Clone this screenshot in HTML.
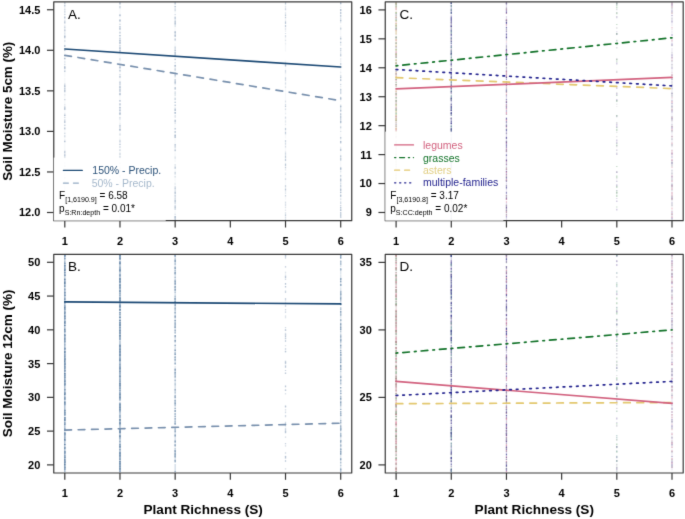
<!DOCTYPE html><html><head><meta charset="utf-8"><style>html,body{margin:0;padding:0;background:#fff;overflow:hidden}svg{display:block;font-family:"Liberation Sans",sans-serif}</style></head><body><svg width="685" height="519" viewBox="0 0 685 519" font-family="Liberation Sans, sans-serif">
<defs><filter id="bl" x="0" y="0" width="685" height="519" filterUnits="userSpaceOnUse" color-interpolation-filters="sRGB"><feConvolveMatrix order="3" kernelMatrix="1 8 1 8 64 8 1 8 1" divisor="100" edgeMode="duplicate"/></filter></defs><g filter="url(#bl)">
<rect width="685" height="519" fill="#ffffff"/>
<line x1="64.80" y1="2.50" x2="64.80" y2="220.00" stroke="#eef2f6" stroke-width="1.2" stroke-opacity="0.5" stroke-dasharray="5.9 0.5 8.9 0.3 7.8 1.0 3.5 1.4 3.3 1.1 3.6 0.4 6.8 3.1 4.1 0.6 8.6 5.1 8.2 1.0 11.8 0.3 10.7 0.8 4.3 0.4 5.8 3.0 4.6 1.7 8.8 1.0 7.9 0.3 3.5 0.6 9.1 1.1 5.8 1.7 7.1 0.8 10.1 2.2 5.2 1.6 7.7 3.7 9.6 0.8 11.8 0.4"/>
<line x1="64.80" y1="2.50" x2="64.80" y2="220.00" stroke="#c9d3df" stroke-width="1.2" stroke-opacity="0.62" stroke-dasharray="1.4 6.3 0.9 3.1 0.7 4.9 2.0 3.8 2.2 1.8 1.9 4.1 1.6 2.8 2.1 12.6 1.5 4.9 0.7 5.4 1.8 21.5 2.1 1.6 1.3 4.9 0.6 2.9 0.9 0.7 0.7 6.5 0.8 1.4 1.3 9.0 0.7 2.8 1.6 9.4 2.1 8.7 1.1 2.5 1.2 9.4 2.3 0.9 0.9 1.3 1.0 3.0 1.7 1.5 0.6 2.5 1.3 3.8 2.3 5.2 1.5 4.3 1.8 0.4 2.2 6.7 2.2 7.1 1.3 2.4"/>
<line x1="64.80" y1="2.50" x2="64.80" y2="220.00" stroke="#b5c3d3" stroke-width="1.2" stroke-opacity="0.62" stroke-dasharray="0.8 4.5 0.7 0.5 1.0 1.0 1.2 0.4 0.6 0.9 0.8 2.1 0.6 9.1 1.7 0.9 1.1 2.0 1.3 0.8 2.1 21.5 1.4 3.0 0.8 0.7 1.2 1.5 2.1 1.0 0.6 13.1 1.6 0.9 1.6 0.3 1.6 16.7 2.2 5.3 1.1 2.2 0.9 6.5 1.6 6.7 1.2 1.3 2.1 18.2 2.1 7.2 2.1 6.0 1.0 3.3 1.2 0.3 0.7 1.6 1.1 5.3 2.3 2.7 2.3 19.2 2.3 2.1 1.0 1.3"/>
<line x1="64.80" y1="2.50" x2="64.80" y2="220.00" stroke="#8aa0ba" stroke-width="1.2" stroke-opacity="0.62" stroke-dasharray="1.0 1.2 1.7 10.1 2.1 3.0 1.8 7.1 0.8 4.8 2.2 6.7 2.0 3.0 0.9 6.9 1.2 7.1 2.3 2.4 1.3 12.8 1.9 1.0 0.8 0.9 2.2 7.2 0.9 7.7 2.4 4.8 1.2 3.6 0.8 0.3 2.3 4.7 1.5 11.8 1.4 9.0 2.1 1.2 1.1 1.7 1.0 4.0 1.1 2.5 0.8 10.5 1.2 2.8 1.7 10.3 1.4 10.9 1.5 3.5 1.5 0.3 1.4 1.1 0.6 7.1"/>
<line x1="119.98" y1="2.50" x2="119.98" y2="220.00" stroke="#eef2f6" stroke-width="1.2" stroke-opacity="0.5" stroke-dasharray="4.6 1.3 9.5 1.6 5.9 1.4 8.0 2.8 4.0 1.6 5.2 0.7 10.0 1.4 8.1 2.6 11.2 1.2 8.5 1.4 7.6 2.2 7.1 1.5 7.3 4.9 9.3 3.7 11.5 0.7 8.0 5.0 10.6 0.4 4.1 1.2 3.7 0.7 3.7 2.0 10.1 4.0 4.4 2.3 8.9 0.5 10.9 5.9"/>
<line x1="119.98" y1="2.50" x2="119.98" y2="220.00" stroke="#c9d3df" stroke-width="1.2" stroke-opacity="0.66" stroke-dasharray="1.0 11.6 1.3 2.7 2.4 6.9 0.9 2.3 1.5 1.8 1.0 1.6 1.9 0.3 1.6 2.4 0.6 1.7 1.7 2.9 0.7 16.0 2.0 13.6 0.8 1.4 0.7 5.9 1.1 0.7 1.4 9.3 2.1 1.3 0.9 9.6 1.6 4.7 0.8 0.4 1.8 2.3 0.7 10.6 1.7 6.3 0.8 7.5 0.7 7.6 1.4 1.8 1.6 10.0 1.1 0.7 1.5 1.2 0.8 0.9 0.7 1.0 1.2 1.6 2.0 1.5 1.5 0.9 1.2 0.3 1.1 0.3 1.9 3.2 0.9 2.6 2.3 0.6 2.1 2.3 1.5 6.9"/>
<line x1="119.98" y1="2.50" x2="119.98" y2="220.00" stroke="#b5c3d3" stroke-width="1.2" stroke-opacity="0.66" stroke-dasharray="1.3 2.8 1.8 15.4 1.2 6.9 1.9 4.0 1.3 1.8 0.7 0.7 0.7 5.3 1.1 0.9 0.8 7.1 2.2 4.4 1.1 1.2 1.1 2.5 0.9 2.4 1.1 12.4 2.4 3.2 1.0 12.8 1.2 1.9 0.6 2.0 1.5 2.8 1.0 2.8 0.6 1.4 0.8 2.1 0.7 0.3 1.1 1.2 1.7 3.0 2.0 4.2 1.9 8.1 1.3 1.7 2.4 0.8 1.9 4.1 0.7 7.0 2.2 3.9 1.9 6.5 0.9 3.0 1.5 7.0 2.0 6.8 1.7 8.6 1.8 4.6"/>
<line x1="119.98" y1="2.50" x2="119.98" y2="220.00" stroke="#8aa0ba" stroke-width="1.2" stroke-opacity="0.66" stroke-dasharray="1.0 0.3 0.8 1.9 0.8 7.0 1.6 3.9 1.7 4.5 1.5 0.2 2.0 5.4 1.5 3.1 1.8 0.5 1.9 1.3 0.7 1.4 1.9 1.1 1.9 14.1 1.5 2.0 1.5 4.5 2.0 3.8 1.8 0.5 0.9 1.3 1.9 1.6 1.6 0.2 0.7 1.4 1.8 4.6 1.8 1.5 1.5 2.5 1.4 0.7 2.2 1.0 2.4 10.5 0.6 2.5 2.1 13.1 1.4 1.4 1.0 11.1 1.0 3.5 0.9 3.0 2.3 0.7 2.1 2.9 2.2 4.8 1.0 8.7 1.5 0.3 0.6 2.7 1.4 1.5 0.9 1.8 1.2 7.1 0.6 5.4 2.1 0.7 2.3 4.9"/>
<line x1="175.16" y1="2.50" x2="175.16" y2="220.00" stroke="#eef2f6" stroke-width="1.2" stroke-opacity="0.5" stroke-dasharray="11.1 0.8 6.3 1.0 12.0 1.7 6.2 1.1 5.5 0.3 3.9 3.2 5.6 4.8 5.2 0.7 7.6 0.6 6.4 5.4 11.0 3.0 8.7 4.3 11.5 1.5 9.5 0.3 9.6 1.2 9.8 1.9 5.6 0.3 11.3 0.4 7.2 0.9 5.7 2.4 11.8 0.7 8.9 0.8"/>
<line x1="175.16" y1="2.50" x2="175.16" y2="220.00" stroke="#c9d3df" stroke-width="1.2" stroke-opacity="0.62" stroke-dasharray="1.6 2.2 0.9 0.9 1.0 9.7 1.5 1.2 2.2 22.8 1.4 0.8 0.9 0.6 1.2 0.6 1.0 1.4 1.6 8.9 1.9 2.3 1.3 3.2 1.3 1.9 0.7 1.5 2.3 0.7 1.5 4.2 2.2 1.2 1.1 1.3 1.3 2.6 2.3 7.8 2.2 0.3 0.7 5.1 2.2 2.8 1.7 0.2 1.3 10.7 2.1 7.9 2.4 1.3 0.8 0.9 1.5 4.8 2.3 5.3 1.8 6.0 1.4 3.4 0.7 6.3 1.0 10.3 1.8 1.6 0.8 1.4 1.7 5.0 0.8 0.5 1.5 3.7 1.3 1.2 1.7 0.2 1.1 2.7"/>
<line x1="175.16" y1="2.50" x2="175.16" y2="220.00" stroke="#b5c3d3" stroke-width="1.2" stroke-opacity="0.62" stroke-dasharray="2.3 4.3 2.2 2.8 1.0 1.3 2.3 5.1 1.2 0.3 1.5 4.7 1.4 1.4 1.8 10.6 1.0 0.3 1.2 2.4 1.8 1.1 2.0 5.6 1.5 1.1 2.3 1.7 2.1 1.2 1.0 5.9 1.1 12.3 1.5 1.0 1.0 2.4 1.8 12.1 0.9 2.2 1.0 14.8 0.9 0.4 0.7 2.2 2.2 8.8 1.9 24.2 2.3 1.8 0.9 11.2 1.9 0.3 1.8 2.1 1.3 1.8 0.9 0.2 1.1 1.9 2.3 0.7 2.3 1.1 1.2 7.1 2.1 2.5"/>
<line x1="175.16" y1="2.50" x2="175.16" y2="220.00" stroke="#8aa0ba" stroke-width="1.2" stroke-opacity="0.62" stroke-dasharray="0.7 2.8 1.3 10.3 0.9 2.0 2.2 0.3 1.3 6.9 2.0 0.4 0.7 0.5 2.3 1.4 1.9 9.4 1.2 1.5 2.3 4.0 1.1 5.2 1.2 1.5 0.6 5.8 2.2 4.2 2.3 0.3 1.0 2.8 2.3 12.5 1.3 1.4 1.4 2.9 2.3 1.0 2.0 5.6 2.1 6.1 1.7 1.8 1.2 2.0 2.0 0.5 1.0 5.8 1.0 0.5 0.7 3.4 1.2 15.9 2.2 17.8 1.1 0.6 0.8 3.0 1.9 2.6 1.0 2.4 1.7 4.7 1.9 7.7 1.8 0.7 2.1 1.6"/>
<line x1="285.52" y1="2.50" x2="285.52" y2="220.00" stroke="#eef2f6" stroke-width="1.2" stroke-opacity="0.5" stroke-dasharray="8.1 1.0 9.6 0.6 5.2 0.7 4.4 3.8 8.2 0.9 6.6 8.3 7.6 0.6 10.3 2.0 11.9 0.4 7.3 3.0 10.6 4.3 3.4 0.8 4.1 0.6 11.8 1.7 11.4 1.0 10.8 1.2 5.3 2.7 11.5 0.4 8.4 1.8 5.0 1.0 4.3 0.6 5.3 1.7 8.9 0.6"/>
<line x1="285.52" y1="2.50" x2="285.52" y2="220.00" stroke="#c9d3df" stroke-width="1.2" stroke-opacity="0.50" stroke-dasharray="0.6 2.8 1.8 1.6 1.2 1.7 2.0 5.5 0.7 0.9 1.3 5.5 1.8 0.8 0.9 8.1 1.3 2.4 1.2 20.6 1.2 5.8 1.2 3.8 2.2 38.1 1.3 1.7 1.9 1.7 0.6 15.7 1.4 11.6 1.3 14.5 1.4 1.4 0.6 5.5 1.8 16.2 0.8 6.7 1.3 4.9 0.9 2.4 1.5 17.5"/>
<line x1="285.52" y1="2.50" x2="285.52" y2="220.00" stroke="#b5c3d3" stroke-width="1.2" stroke-opacity="0.50" stroke-dasharray="0.8 4.7 2.0 22.9 1.0 1.1 2.3 24.9 1.5 0.6 2.3 3.5 2.2 6.7 2.1 1.4 2.0 1.9 1.3 12.7 2.1 1.5 1.0 3.6 1.5 3.4 0.8 2.1 1.9 15.4 0.7 5.7 2.0 0.5 2.1 1.0 1.7 5.5 1.7 2.6 1.4 6.0 1.4 7.4 1.4 4.0 0.6 6.6 1.5 2.0 2.0 10.3 1.4 1.5 1.5 1.0 0.8 4.0 0.8 4.1 1.5 0.5 1.7 0.8"/>
<line x1="285.52" y1="2.50" x2="285.52" y2="220.00" stroke="#8aa0ba" stroke-width="1.2" stroke-opacity="0.50" stroke-dasharray="1.9 10.2 1.5 0.6 1.5 3.4 2.3 1.2 2.1 37.2 1.9 11.4 0.9 26.9 1.5 21.1 2.2 1.4 2.0 18.0 0.7 3.1 2.0 1.4 2.2 2.3 2.1 1.2 1.5 17.0 1.0 2.2 1.5 2.8 0.7 1.5 0.9 18.6 1.8 15.3"/>
<line x1="340.70" y1="2.50" x2="340.70" y2="220.00" stroke="#eef2f6" stroke-width="1.2" stroke-opacity="0.5" stroke-dasharray="4.5 2.8 4.0 1.5 8.7 0.9 10.9 1.6 8.2 3.8 3.9 8.5 8.7 1.0 10.2 0.7 11.9 1.6 6.2 2.6 7.0 0.5 9.7 0.3 10.4 0.7 8.8 7.1 8.3 2.0 5.8 0.2 3.3 0.5 8.5 1.1 7.6 4.0 4.2 0.6 8.9 0.2 3.0 0.9 4.0 0.9 5.0 1.7 8.3 0.6"/>
<line x1="340.70" y1="2.50" x2="340.70" y2="220.00" stroke="#c9d3df" stroke-width="1.2" stroke-opacity="0.60" stroke-dasharray="1.7 3.0 0.8 12.0 1.0 0.9 0.8 4.6 2.2 6.7 1.3 1.5 0.6 4.6 1.6 2.0 1.8 2.7 2.3 5.9 1.0 10.2 0.7 3.4 1.3 1.4 0.7 6.7 0.6 3.6 2.3 0.9 1.0 4.2 1.5 4.6 2.1 1.0 1.2 1.7 0.7 9.6 2.0 5.6 0.6 8.2 1.9 2.9 1.9 2.8 1.0 0.7 1.0 0.4 1.2 6.1 1.9 8.2 1.9 1.5 1.6 2.7 2.0 3.4 1.1 4.6 2.3 1.2 2.2 0.3 1.1 1.4 1.9 12.6 1.9 1.9 2.2 1.9 1.0 10.4"/>
<line x1="340.70" y1="2.50" x2="340.70" y2="220.00" stroke="#b5c3d3" stroke-width="1.2" stroke-opacity="0.60" stroke-dasharray="1.7 5.3 1.8 16.8 1.4 8.0 1.9 8.6 1.4 5.7 1.6 1.8 1.0 4.4 0.7 10.6 0.9 0.3 0.8 11.5 1.2 0.9 0.7 0.4 1.8 4.5 1.9 5.9 0.7 4.0 1.3 7.5 2.1 9.7 0.7 8.9 2.2 12.6 0.8 1.2 0.8 0.4 2.1 7.4 1.7 7.7 1.7 1.7 0.8 0.6 2.0 1.2 1.2 2.6 0.6 1.5 1.1 5.6 1.3 1.9 2.3 3.2 2.1 4.3 0.7 2.5 1.4 6.6"/>
<line x1="340.70" y1="2.50" x2="340.70" y2="220.00" stroke="#8aa0ba" stroke-width="1.2" stroke-opacity="0.60" stroke-dasharray="1.2 5.4 1.6 1.2 2.2 0.6 2.1 1.0 0.6 1.2 2.0 16.5 0.6 3.1 1.5 7.0 0.9 3.1 1.2 7.8 1.1 12.5 1.1 1.2 1.9 3.2 0.8 4.5 0.7 6.8 1.9 6.8 1.7 2.1 1.3 2.4 2.2 0.6 2.2 0.3 1.0 1.5 2.2 3.2 1.3 9.4 1.0 2.8 1.6 6.2 2.0 4.7 1.2 1.9 0.9 8.1 1.8 6.0 0.9 2.7 2.0 3.9 0.8 2.9 2.2 1.4 0.9 1.7 1.9 8.2 0.9 0.9 1.0 1.9 1.5 1.0 1.2 1.1 2.4 5.8"/>
<line x1="64.80" y1="255.05" x2="64.80" y2="472.30" stroke="#a9bcd0" stroke-width="1.5" stroke-opacity="1.0" stroke-dasharray="3.9 1.3 3.9 0.4 11.9 0.7 9.6 0.4 4.8 0.5 4.0 0.3 6.5 0.2 6.6 0.7 9.2 0.4 8.7 0.4 4.3 0.5 6.6 0.7 11.2 0.4 8.2 0.7 6.8 0.3 9.5 0.9 10.0 0.6 10.7 0.6 8.8 0.4 5.8 0.5 3.9 0.4 10.0 0.6 8.7 0.3 6.8 0.4 8.6 0.4 9.1 1.1 4.6 0.6 10.0 0.4"/>
<line x1="64.80" y1="255.05" x2="64.80" y2="472.30" stroke="#5a7c9e" stroke-width="1.5" stroke-opacity="0.90" stroke-dasharray="1.5 6.3 0.7 1.5 0.9 2.7 2.3 1.4 0.8 1.6 1.6 2.3 1.5 1.9 2.1 1.4 1.3 5.1 1.0 2.1 1.3 2.6 0.8 7.1 1.2 0.3 1.1 1.1 0.6 1.1 1.4 2.2 1.2 0.7 1.0 2.5 2.3 1.4 1.0 2.9 1.3 0.6 0.8 2.7 2.1 1.9 1.4 1.6 1.0 5.7 1.2 1.9 2.1 3.0 1.4 0.8 1.6 0.4 2.1 0.9 2.1 0.7 1.3 0.7 1.4 0.5 0.6 2.3 1.1 0.7 1.1 1.3 1.4 1.9 1.8 1.0 2.3 3.4 0.7 3.1 2.2 2.8 0.9 3.2 1.7 0.2 0.6 5.3 1.8 0.7 0.8 0.5 1.0 2.7 1.2 0.5 2.2 2.8 0.9 3.9 1.7 2.7 1.8 3.9 2.0 3.2 1.0 2.2 1.6 2.5 1.4 3.8 1.6 0.7 1.0 0.5 1.5 0.3 1.4 0.5 1.5 1.3 1.6 3.5 0.6 3.3"/>
<line x1="64.80" y1="255.05" x2="64.80" y2="472.30" stroke="#7f9bb8" stroke-width="1.5" stroke-opacity="0.90" stroke-dasharray="1.4 1.6 1.8 3.3 1.3 1.1 2.3 0.3 1.7 1.9 0.7 1.8 1.8 4.7 1.2 6.9 1.5 1.3 2.2 0.3 1.9 1.8 1.2 3.5 1.3 1.3 1.5 2.7 1.0 1.2 1.4 1.5 2.1 0.8 2.1 1.1 1.5 0.7 1.5 6.3 1.8 2.8 1.2 0.8 1.1 1.7 1.7 2.8 0.7 2.3 2.2 1.5 0.7 0.8 0.6 0.6 2.3 1.8 1.8 2.8 2.2 1.8 1.7 1.8 1.9 1.7 1.8 0.6 1.8 1.2 2.0 0.4 0.9 0.3 2.0 4.3 1.8 1.0 2.1 2.8 1.6 0.7 1.1 1.1 1.2 1.1 1.8 4.7 0.7 1.6 0.7 0.4 2.1 1.6 2.3 1.2 0.6 1.0 1.7 4.8 2.4 1.3 1.3 0.4 1.8 0.6 0.9 0.2 0.6 2.1 0.8 5.9 0.8 3.6 0.8 0.2 1.9 0.7 1.9 0.5 0.7 2.7 1.9 3.4 1.9 0.3 1.7 2.3 1.4 4.7"/>
<line x1="119.98" y1="255.05" x2="119.98" y2="472.30" stroke="#a9bcd0" stroke-width="1.5" stroke-opacity="1.0" stroke-dasharray="5.3 1.3 9.5 0.2 3.1 0.6 10.4 0.2 5.8 0.6 4.5 0.9 7.4 0.2 6.3 0.5 6.9 0.6 4.3 0.7 6.3 0.5 8.7 0.4 6.5 0.7 11.5 0.7 8.1 0.3 3.5 1.4 9.3 0.8 6.0 0.5 11.8 0.8 8.4 0.3 6.9 0.9 6.4 0.6 8.4 1.0 10.3 0.3 3.0 0.3 6.8 0.5 10.3 0.9 3.4 0.8 10.3 0.9"/>
<line x1="119.98" y1="255.05" x2="119.98" y2="472.30" stroke="#5a7c9e" stroke-width="1.5" stroke-opacity="0.90" stroke-dasharray="1.6 0.7 2.1 2.9 1.8 4.3 1.2 0.3 1.6 2.9 1.0 2.5 2.3 0.6 1.7 2.1 1.4 0.6 1.1 2.5 2.0 1.2 0.8 2.9 2.0 0.6 1.6 4.0 2.2 1.4 1.5 1.7 0.9 0.6 0.9 2.2 1.3 1.6 1.3 1.4 0.9 0.3 2.4 1.0 0.8 1.9 2.0 0.5 1.7 0.9 1.5 0.2 0.7 7.9 2.2 1.3 1.6 0.7 2.0 1.1 2.3 2.6 2.1 5.7 1.1 0.3 1.0 0.5 0.8 0.3 1.6 3.6 1.4 5.1 2.2 0.3 1.7 1.0 0.8 5.5 1.1 1.6 1.8 5.4 1.8 1.0 1.4 0.5 2.3 8.2 1.0 0.3 1.1 0.9 2.2 4.1 2.1 0.3 2.0 2.3 1.8 7.2 0.7 0.5 2.0 4.9 1.8 0.8 1.7 2.6 0.8 0.9 1.1 0.4 1.5 0.5 1.0 0.5 1.8 0.2 1.9 0.6 0.7 4.6"/>
<line x1="119.98" y1="255.05" x2="119.98" y2="472.30" stroke="#7f9bb8" stroke-width="1.5" stroke-opacity="0.90" stroke-dasharray="1.0 4.7 2.2 3.9 0.9 1.2 0.8 4.6 2.1 1.8 1.4 0.9 2.1 1.3 1.7 0.5 1.0 0.3 1.9 1.5 0.9 3.6 1.1 1.1 0.9 0.7 2.1 0.9 0.9 1.3 1.2 4.1 0.8 6.6 0.7 4.0 1.8 0.6 1.5 0.8 1.1 0.6 1.3 8.1 2.4 4.5 0.8 0.8 2.2 0.3 1.9 0.8 2.4 0.2 2.1 0.9 0.9 0.2 2.1 1.4 0.9 1.2 2.2 0.6 1.6 0.4 0.9 2.7 1.9 0.6 0.7 0.4 1.7 1.3 1.1 0.6 1.7 2.3 2.1 1.7 1.0 0.3 1.9 1.1 1.9 0.3 2.1 0.9 2.1 3.5 1.5 0.2 2.2 1.3 2.2 0.7 0.9 3.2 1.3 0.5 1.3 1.7 0.6 1.4 1.4 1.4 0.8 2.3 2.1 3.5 1.2 2.3 1.3 2.5 0.7 3.6 2.3 1.3 1.5 1.5 1.6 0.2 2.3 0.6 0.9 0.4 1.1 3.0 0.7 0.4 1.9 0.6 0.6 1.7 1.6 1.4 1.9 0.4"/>
<line x1="175.16" y1="255.05" x2="175.16" y2="472.30" stroke="#cdd8e4" stroke-width="1.4" stroke-opacity="0.9" stroke-dasharray="10.8 2.3 3.4 0.4 7.4 1.4 5.5 0.4 6.7 0.4 8.3 3.5 4.3 1.6 9.7 0.5 10.4 4.8 6.5 1.1 10.6 1.4 6.6 4.9 10.0 0.9 5.2 0.9 6.9 6.8 10.2 4.3 10.3 3.3 3.5 1.4 11.6 4.7 5.2 1.1 8.7 1.0 7.8 0.3"/>
<line x1="175.16" y1="255.05" x2="175.16" y2="472.30" stroke="#6a88a8" stroke-width="1.4" stroke-opacity="0.80" stroke-dasharray="1.4 2.2 0.6 0.6 2.3 4.5 2.3 3.1 2.1 6.4 2.2 0.3 1.8 1.1 1.8 1.1 1.6 7.6 1.7 1.0 1.5 1.8 2.3 1.2 1.1 3.2 0.8 2.8 2.3 2.3 1.1 2.0 1.6 0.7 0.8 0.6 1.1 1.7 1.1 1.0 0.8 2.5 2.1 2.9 1.6 3.2 1.0 3.7 1.4 2.5 1.7 2.0 1.2 1.0 1.0 2.3 1.3 2.7 0.6 1.4 2.2 1.0 1.6 2.1 1.1 12.7 1.1 4.4 0.9 0.4 2.2 1.9 0.7 1.6 1.4 4.0 0.8 0.9 2.3 4.0 0.9 1.4 1.2 3.4 1.7 5.6 2.1 2.3 1.9 4.1 2.0 2.0 2.0 3.7 2.2 0.6 2.2 0.2 2.0 2.7 1.5 9.6 1.6 1.7"/>
<line x1="175.16" y1="255.05" x2="175.16" y2="472.30" stroke="#9ab0c6" stroke-width="1.4" stroke-opacity="0.80" stroke-dasharray="2.0 6.1 1.7 1.6 1.4 1.9 1.9 1.2 1.3 2.5 1.3 1.3 2.0 5.6 1.5 1.9 0.9 1.2 0.9 2.6 1.6 0.5 2.3 1.3 2.1 5.4 2.3 0.9 1.4 7.1 0.6 0.3 1.6 2.2 2.3 4.4 1.6 18.5 1.5 2.3 1.8 1.6 1.2 2.8 1.2 8.6 1.8 2.3 0.8 1.5 1.3 2.6 1.6 6.3 2.3 2.1 1.4 3.0 2.4 1.4 1.6 5.0 0.9 1.3 2.4 5.2 1.5 0.5 2.2 3.5 2.1 13.4 2.2 1.8 0.9 1.2 1.5 2.2 0.9 0.8 1.7 2.8 1.2 14.7"/>
<line x1="285.52" y1="255.05" x2="285.52" y2="472.30" stroke="#8aa0ba" stroke-width="1.3" stroke-opacity="0.60" stroke-dasharray="1.7 0.4 1.3 7.9 1.2 6.1 0.6 2.0 2.1 4.6 1.8 1.3 1.5 4.2 1.1 5.4 1.6 29.4 1.6 2.8 0.8 1.1 2.0 0.8 0.8 1.1 1.5 8.9 1.7 8.4 0.7 0.3 2.0 2.1 1.9 2.4 0.9 1.8 0.8 11.9 1.6 2.3 1.4 2.6 0.7 11.3 1.6 16.2 1.4 5.0 1.0 0.4 2.3 9.8 1.2 11.7 2.1 2.0 1.7 16.3"/>
<line x1="285.52" y1="255.05" x2="285.52" y2="472.30" stroke="#b5c3d3" stroke-width="1.3" stroke-opacity="0.60" stroke-dasharray="1.5 15.1 1.0 2.7 1.9 1.5 1.2 10.6 1.5 8.1 1.0 1.2 1.2 1.2 2.3 1.9 1.6 0.8 1.6 2.6 1.3 0.5 0.8 8.9 1.2 1.6 0.9 1.9 1.0 0.4 1.8 2.3 0.9 6.3 0.8 1.8 2.1 0.9 1.4 9.2 2.0 1.1 1.2 6.6 1.3 16.1 1.0 15.3 1.5 1.5 1.4 0.9 1.9 1.7 2.2 4.6 1.3 1.6 1.7 1.4 2.2 0.9 1.5 4.1 1.1 7.6 1.3 5.6 1.6 2.1 1.3 0.6 0.9 9.7 1.2 5.6"/>
<line x1="340.70" y1="255.05" x2="340.70" y2="472.30" stroke="#d5dfe9" stroke-width="1.4" stroke-opacity="0.8" stroke-dasharray="4.0 1.6 6.3 1.4 5.7 0.3 5.8 0.6 4.1 2.3 5.5 1.1 11.2 2.7 10.9 3.5 4.2 0.7 3.3 2.1 9.0 0.9 6.7 2.0 9.3 0.7 10.6 0.9 8.7 0.5 4.0 4.3 9.6 2.3 3.4 0.3 4.5 0.6 5.7 1.0 3.4 0.8 8.7 0.5 10.6 1.6 9.4 0.7 6.9 2.1 6.1 0.2 10.5 2.7"/>
<line x1="340.70" y1="255.05" x2="340.70" y2="472.30" stroke="#6a88a8" stroke-width="1.4" stroke-opacity="0.75" stroke-dasharray="1.1 0.3 2.1 3.1 0.7 1.1 0.8 5.0 1.0 7.8 1.9 0.5 1.9 1.7 1.9 5.6 1.1 0.5 2.3 1.9 2.3 3.8 1.9 5.7 1.7 2.1 0.7 3.9 1.4 2.4 2.3 0.6 2.0 0.3 1.9 5.2 1.1 2.6 2.3 3.3 1.6 1.1 0.7 1.6 1.3 0.9 1.2 0.7 1.9 3.6 1.0 1.1 1.5 2.0 2.3 1.5 1.1 6.8 0.9 2.7 1.2 5.4 1.6 4.6 0.9 3.6 1.7 2.1 2.0 5.7 0.8 1.3 1.2 0.9 0.7 1.2 1.0 3.9 1.4 0.6 1.2 2.1 1.3 0.8 0.7 0.2 2.4 4.5 0.8 4.1 2.4 2.8 0.8 2.3 1.4 0.8 1.6 0.2 2.3 3.4 1.7 8.6 1.8 1.1 1.0 0.7"/>
<line x1="340.70" y1="255.05" x2="340.70" y2="472.30" stroke="#9ab0c6" stroke-width="1.4" stroke-opacity="0.75" stroke-dasharray="0.6 4.8 2.1 1.3 0.9 3.3 2.1 8.2 0.9 4.9 2.1 4.4 1.2 0.8 2.1 1.4 1.3 2.7 1.3 5.7 1.0 0.3 1.6 3.2 2.1 4.0 2.2 9.1 1.5 2.3 0.9 1.3 1.6 0.5 1.8 0.7 1.4 11.0 0.8 0.3 1.4 0.9 1.9 0.2 2.1 6.1 2.0 1.9 1.1 3.5 1.5 1.9 1.2 2.0 1.8 5.6 2.2 0.8 1.1 2.0 1.6 1.5 1.0 0.5 1.2 2.1 2.3 7.6 2.2 11.5 2.3 3.2 2.1 0.4 1.8 3.1 1.1 2.8 2.3 2.2 1.8 1.3 1.2 6.9 0.7 0.8 1.8 2.0 0.8 3.5 1.3 2.9"/>
<line x1="396.10" y1="2.50" x2="396.10" y2="220.00" stroke="#e8dcdc" stroke-width="1.2" stroke-opacity="0.9" stroke-dasharray="6.7 1.5 8.1 1.0 4.0 0.5 11.0 1.5 4.0 3.5 5.3 0.4 7.8 0.7 7.4 1.5 5.0 1.6 4.0 1.4 8.3 0.3 6.7 0.3 7.0 3.5 8.0 2.3 9.8 0.4 11.9 2.3 3.9 3.2 6.5 0.5 11.6 1.6 10.0 0.4 10.0 0.3 5.1 1.0 3.1 1.7 4.9 0.8 9.4 1.1 11.0 1.8"/>
<line x1="396.10" y1="2.50" x2="396.10" y2="220.00" stroke="#d98aa0" stroke-width="1.2" stroke-opacity="0.60" stroke-dasharray="2.2 3.0 2.3 7.0 0.9 4.8 1.2 5.0 1.8 6.0 0.8 1.8 1.9 10.1 1.9 0.3 1.7 0.5 1.6 5.6 0.8 8.9 1.8 1.2 0.9 2.2 2.1 3.1 0.8 0.3 0.8 5.6 0.9 2.9 1.1 4.1 1.3 0.7 2.2 2.8 1.8 5.7 2.3 0.2 1.2 0.7 1.5 7.1 2.0 0.3 0.9 5.9 1.8 1.9 1.5 0.8 2.1 1.9 2.2 3.3 0.7 1.5 1.0 7.7 1.7 0.3 0.9 1.7 1.4 3.1 1.3 1.7 0.6 3.1 1.2 0.3 1.4 14.5 0.7 0.7 1.8 1.3 1.1 2.5 1.1 3.0 1.6 10.7"/>
<line x1="396.10" y1="2.50" x2="396.10" y2="220.00" stroke="#5d9a6a" stroke-width="1.2" stroke-opacity="0.60" stroke-dasharray="2.4 0.3 1.6 5.1 2.2 5.2 1.7 3.6 1.3 1.3 2.0 7.1 2.3 4.0 1.1 5.0 1.9 2.6 1.7 1.6 1.6 1.9 0.7 1.6 1.2 15.1 1.5 1.7 1.0 1.1 1.2 0.7 0.6 7.0 1.4 2.2 1.6 1.4 0.9 0.4 1.1 1.4 1.9 2.9 2.3 1.6 2.3 3.1 0.7 0.9 1.6 14.8 1.2 5.2 1.4 7.0 0.7 2.4 2.2 1.3 1.1 0.3 0.9 1.2 1.9 1.0 1.3 0.9 1.7 6.9 1.8 0.9 1.9 11.2 1.7 0.5 2.1 7.1 1.2 0.7 0.9 2.8 2.2 3.6 2.3 1.0 1.2 4.8"/>
<line x1="396.10" y1="2.50" x2="396.10" y2="220.00" stroke="#dccb8a" stroke-width="1.2" stroke-opacity="0.60" stroke-dasharray="1.8 1.9 1.8 1.6 0.7 2.0 0.7 3.5 1.2 2.5 1.7 1.2 1.4 0.2 2.3 3.0 2.4 0.4 1.7 4.5 1.2 0.5 0.9 0.7 2.0 0.5 2.1 2.0 1.6 3.2 1.6 3.8 1.7 1.5 1.9 1.2 1.9 5.0 2.0 1.4 2.0 12.8 1.4 1.3 1.5 9.6 0.8 0.2 1.5 3.8 2.0 1.7 2.4 1.1 2.0 0.5 0.7 0.7 0.7 2.5 1.6 0.9 2.3 1.7 0.9 0.9 1.9 8.7 0.9 0.3 2.0 1.1 2.4 2.5 1.7 1.6 2.0 2.3 1.2 8.0 0.8 4.6 0.7 3.7 1.3 6.9 0.7 3.0 1.3 8.6 2.3 3.5 1.0 1.2 1.1 2.1 1.0 1.0 2.0 3.6 1.1 17.4"/>
<line x1="396.10" y1="2.50" x2="396.10" y2="220.00" stroke="#9a9aa8" stroke-width="1.2" stroke-opacity="0.60" stroke-dasharray="1.0 3.0 0.9 6.8 2.2 1.2 2.0 6.0 1.1 1.5 1.5 7.6 0.9 4.0 1.7 2.2 1.6 7.3 1.0 7.4 1.2 5.2 2.2 0.9 2.2 17.7 1.1 0.3 0.8 12.4 0.6 8.3 0.9 4.6 0.8 0.8 1.8 0.5 1.2 8.6 1.9 7.3 2.4 0.3 1.0 5.4 1.8 0.3 1.5 1.1 1.4 0.6 0.6 15.8 1.2 7.2 0.8 2.4 0.8 2.1 0.9 4.1 0.9 4.7 1.5 0.6 1.2 2.5 2.3 1.6 1.0 11.6"/>
<line x1="451.28" y1="2.50" x2="451.28" y2="220.00" stroke="#cfcfe4" stroke-width="1.2" stroke-opacity="0.9" stroke-dasharray="10.9 2.4 5.5 0.5 5.4 0.3 3.4 1.4 6.7 1.6 6.3 0.2 9.2 2.0 7.9 1.5 9.2 6.9 10.9 2.3 6.6 0.8 6.8 6.2 6.5 1.0 6.7 0.5 12.0 0.2 8.5 4.5 5.3 1.8 6.4 0.7 4.8 0.4 10.6 2.8 11.2 0.3 9.2 0.9 8.8 1.5"/>
<line x1="451.28" y1="2.50" x2="451.28" y2="220.00" stroke="#3c3c8c" stroke-width="1.2" stroke-opacity="0.65" stroke-dasharray="1.2 15.0 0.6 5.9 2.1 3.2 1.7 22.1 1.0 4.3 1.9 2.2 1.9 2.3 1.5 4.2 1.8 1.8 1.7 3.5 1.0 4.2 1.1 10.2 1.5 5.5 1.5 2.9 1.0 0.8 2.3 3.3 1.5 3.3 2.1 1.3 0.9 7.4 1.4 4.5 2.1 9.6 2.2 0.4 1.3 7.6 2.1 0.7 0.9 1.4 0.8 2.0 2.0 3.3 1.4 0.6 1.3 24.4 1.9 2.7 1.5 6.9 2.0 0.9 1.8 2.1"/>
<line x1="451.28" y1="2.50" x2="451.28" y2="220.00" stroke="#7a6aa8" stroke-width="1.2" stroke-opacity="0.65" stroke-dasharray="1.5 1.3 1.3 1.9 1.3 0.3 1.0 3.7 0.7 1.0 1.9 1.5 1.2 1.4 2.1 0.6 1.7 8.4 1.0 2.5 2.0 4.2 1.3 0.4 1.4 2.1 1.9 1.7 1.3 4.6 2.1 2.0 1.3 3.8 2.3 1.1 2.3 5.4 1.3 4.8 1.2 0.5 2.0 2.2 1.5 3.1 2.2 6.1 0.6 3.9 1.4 2.8 2.1 2.4 1.5 9.4 1.4 3.0 1.5 7.5 1.8 5.8 1.3 0.4 1.8 3.6 2.0 6.3 0.8 1.2 0.7 7.3 0.8 0.6 2.0 3.7 0.7 5.0 1.9 2.9 0.7 5.1 1.4 3.9 2.4 7.3 2.2 0.9 1.2 3.2"/>
<line x1="451.28" y1="2.50" x2="451.28" y2="220.00" stroke="#9a9aa8" stroke-width="1.2" stroke-opacity="0.65" stroke-dasharray="0.6 18.9 1.1 1.5 1.2 1.4 2.1 3.6 1.5 2.5 0.7 1.7 2.2 6.9 2.1 1.4 1.0 0.4 1.6 2.2 1.4 3.0 1.7 2.1 2.0 1.1 2.3 3.6 0.7 1.8 1.6 2.4 1.6 1.8 1.1 6.8 1.1 5.4 2.0 3.9 1.4 11.6 1.4 9.0 0.7 2.6 1.8 0.4 2.2 0.5 1.7 1.0 2.3 3.6 2.0 3.1 1.8 4.9 1.1 1.2 2.1 0.9 2.3 1.2 0.8 0.6 2.0 12.8 1.3 4.7 1.1 10.0 1.8 0.9 0.7 5.2 0.7 7.7 1.1 1.3 1.6 1.8"/>
<line x1="451.28" y1="2.50" x2="451.28" y2="220.00" stroke="#6a9a9a" stroke-width="1.2" stroke-opacity="0.65" stroke-dasharray="1.6 0.9 2.2 1.8 2.1 0.9 2.0 16.5 1.3 0.3 1.3 4.5 1.0 3.5 0.8 2.8 1.9 2.5 1.8 0.7 2.1 0.7 2.3 23.3 2.3 3.3 1.1 2.0 2.0 3.1 2.3 0.6 1.5 8.5 1.7 3.4 0.8 0.8 1.1 9.5 2.1 1.3 2.3 0.3 1.7 14.5 1.2 12.2 1.8 0.4 1.2 2.7 1.0 5.9 0.9 6.7 1.1 0.5 1.6 0.6 1.6 6.7 1.7 2.8 0.7 3.2 0.8 4.5 0.8 3.8 1.2 2.2 1.8 0.9 0.9 12.0"/>
<line x1="451.28" y1="2.50" x2="451.28" y2="220.00" stroke="#3c3c8c" stroke-width="1.2" stroke-opacity="0.65" stroke-dasharray="1.2 7.9 2.2 2.9 0.9 0.6 2.2 0.7 1.5 3.4 0.8 2.8 0.9 3.4 1.5 2.1 1.0 2.4 1.0 0.8 1.0 8.8 1.5 9.4 0.6 12.2 1.5 6.7 1.6 5.1 1.0 6.0 0.9 1.5 0.7 2.3 1.5 1.6 2.2 0.6 1.6 1.3 1.7 6.6 1.9 0.5 1.0 4.0 2.4 0.4 1.7 5.1 2.1 1.9 2.1 2.8 2.3 0.2 2.3 2.4 1.3 0.6 1.0 5.7 1.8 0.9 1.2 0.8 1.0 1.2 1.2 15.7 2.4 6.7 1.5 3.1 2.0 10.1 2.0 4.4 1.0 4.3"/>
<line x1="506.46" y1="2.50" x2="506.46" y2="220.00" stroke="#dad4e8" stroke-width="1.2" stroke-opacity="0.85" stroke-dasharray="10.6 2.8 3.8 2.3 6.1 0.5 11.7 2.1 9.7 0.4 10.5 4.8 11.1 2.5 10.5 2.9 8.3 1.2 10.4 2.8 10.8 0.8 11.6 1.5 11.5 0.4 11.7 2.8 5.3 3.2 5.1 0.6 7.1 0.7 7.4 4.2 9.2 2.3 6.5 2.8"/>
<line x1="506.46" y1="2.50" x2="506.46" y2="220.00" stroke="#7a6aa8" stroke-width="1.2" stroke-opacity="0.60" stroke-dasharray="2.0 5.0 2.3 7.6 1.3 0.6 1.8 7.8 1.2 4.0 2.1 6.8 0.6 3.0 0.6 0.7 2.1 2.5 1.7 2.8 1.2 1.2 1.2 8.0 1.7 1.7 0.8 1.5 1.9 2.7 1.8 7.1 0.8 5.0 0.7 7.5 0.9 1.5 2.3 2.1 1.0 9.5 1.7 9.6 1.3 3.1 2.3 3.2 2.4 1.1 2.1 0.9 1.5 0.2 0.9 12.4 1.4 7.2 1.1 2.0 0.8 3.6 2.2 3.2 1.3 11.3 2.2 4.8 0.7 4.3 1.4 13.5"/>
<line x1="506.46" y1="2.50" x2="506.46" y2="220.00" stroke="#d98aa0" stroke-width="1.2" stroke-opacity="0.60" stroke-dasharray="1.3 4.8 1.7 2.2 1.5 5.0 2.2 3.1 1.3 15.9 0.7 7.8 1.8 3.6 1.4 6.1 2.2 5.7 1.9 0.4 1.2 0.8 2.3 9.5 0.9 3.9 1.6 0.4 1.3 6.0 1.8 1.6 2.0 1.6 1.6 2.5 2.4 4.6 2.0 5.0 1.3 14.1 1.9 5.1 1.1 0.9 1.6 7.6 2.0 2.0 0.9 3.3 2.2 0.9 1.9 1.0 1.2 0.4 1.1 2.2 2.3 14.0 0.9 1.8 2.3 1.1 1.2 2.6 0.8 1.5 1.3 2.3 2.3 1.5 1.0 10.3"/>
<line x1="506.46" y1="2.50" x2="506.46" y2="220.00" stroke="#3c3c8c" stroke-width="1.2" stroke-opacity="0.60" stroke-dasharray="1.4 7.8 1.7 6.5 1.2 0.9 2.0 2.9 1.6 4.9 2.0 1.6 1.3 10.7 1.6 1.6 1.7 1.5 2.0 0.4 2.1 3.7 1.2 12.0 1.1 1.4 0.7 3.5 2.0 5.0 1.3 7.1 0.8 1.7 1.8 14.6 1.7 5.2 2.0 2.3 2.3 5.9 1.2 2.3 2.1 2.0 0.9 8.8 1.6 3.3 1.8 10.0 0.8 1.9 0.7 2.4 1.5 8.2 1.8 3.8 1.3 3.8 1.1 8.0 2.0 7.9 0.9 4.9"/>
<line x1="506.46" y1="2.50" x2="506.46" y2="220.00" stroke="#9a9aa8" stroke-width="1.2" stroke-opacity="0.60" stroke-dasharray="2.0 3.1 2.2 9.8 1.9 7.4 1.8 9.1 0.8 5.3 1.9 4.2 1.1 0.5 1.7 7.5 1.1 1.2 1.0 0.6 1.8 15.7 2.0 2.1 1.9 0.5 2.1 1.9 0.6 4.4 0.8 1.6 0.7 2.7 1.6 7.1 0.7 7.6 0.8 1.3 1.7 2.0 1.2 3.7 1.0 6.8 1.0 7.9 2.1 3.4 0.7 6.5 0.7 3.2 1.4 0.5 1.7 5.6 1.7 2.4 1.5 3.9 1.0 8.7 2.4 7.1 2.3 1.9 2.4 0.5 1.5 0.8 1.4 5.0"/>
<line x1="616.82" y1="2.50" x2="616.82" y2="220.00" stroke="#9a9aa8" stroke-width="1.2" stroke-opacity="0.40" stroke-dasharray="1.9 4.7 1.2 1.8 1.3 2.7 0.9 10.2 1.5 4.5 1.0 9.3 1.0 2.5 1.6 9.3 2.4 10.5 2.3 19.1 1.9 9.7 0.7 1.9 0.6 15.1 1.9 7.7 1.1 3.5 0.9 7.7 2.4 2.9 0.7 1.6 1.2 17.4 2.0 4.8 0.8 1.0 0.9 11.5 1.4 35.2"/>
<line x1="616.82" y1="2.50" x2="616.82" y2="220.00" stroke="#7a6aa8" stroke-width="1.2" stroke-opacity="0.40" stroke-dasharray="2.2 12.1 1.5 13.1 0.8 1.1 1.6 5.5 1.0 2.4 0.6 18.2 1.9 22.0 2.4 4.5 1.9 3.8 2.1 14.0 0.8 0.3 1.0 6.8 1.3 0.3 2.1 11.8 1.4 0.5 2.2 5.9 0.7 3.1 1.7 16.4 1.5 7.9 1.0 2.3 2.2 3.8 0.8 6.9 0.8 1.9 1.4 6.8 1.7 9.4"/>
<line x1="616.82" y1="2.50" x2="616.82" y2="220.00" stroke="#5d9a6a" stroke-width="1.2" stroke-opacity="0.40" stroke-dasharray="1.4 0.7 1.9 0.6 1.4 4.0 1.8 9.6 1.0 8.1 1.8 5.0 0.9 18.2 1.7 0.7 1.0 32.7 1.0 3.9 2.0 13.2 1.7 10.3 0.7 0.9 2.4 12.4 0.7 0.6 1.0 20.2 1.0 8.6 2.3 7.8 2.3 2.5 0.9 0.3 2.0 1.0 2.4 9.5 0.9 12.5"/>
<line x1="672.00" y1="2.50" x2="672.00" y2="220.00" stroke="#e4e0ec" stroke-width="1.2" stroke-opacity="0.7" stroke-dasharray="4.5 1.4 4.0 2.8 11.0 4.3 3.0 3.4 8.0 3.1 7.5 1.8 8.4 2.9 3.7 0.3 7.9 0.8 6.6 0.2 9.7 0.2 10.5 3.0 7.1 0.4 8.9 0.6 6.9 0.4 11.8 1.5 6.2 0.4 9.6 3.4 10.6 0.4 6.3 0.8 9.9 0.5 8.5 6.6 9.9 0.2"/>
<line x1="672.00" y1="2.50" x2="672.00" y2="220.00" stroke="#7a6aa8" stroke-width="1.2" stroke-opacity="0.50" stroke-dasharray="0.7 0.8 1.8 4.4 1.5 3.0 1.3 4.6 1.8 11.7 1.9 7.5 2.2 8.6 1.9 0.3 1.8 9.0 1.4 9.9 0.9 13.4 1.4 5.9 1.1 1.8 1.2 2.0 0.8 2.9 2.4 5.1 2.3 6.8 2.1 24.0 2.0 1.7 1.0 2.7 0.6 1.4 2.2 11.9 1.2 7.0 2.0 10.4 2.0 3.7 0.8 8.3 1.2 4.8 1.3 3.8"/>
<line x1="672.00" y1="2.50" x2="672.00" y2="220.00" stroke="#d98aa0" stroke-width="1.2" stroke-opacity="0.50" stroke-dasharray="2.3 1.0 1.6 5.0 1.6 13.0 1.3 11.5 1.8 16.0 0.8 1.3 1.1 11.1 0.6 1.6 1.9 21.3 0.9 2.9 1.8 5.6 1.9 6.7 1.0 1.6 0.6 5.6 1.0 1.6 2.3 5.0 1.7 5.1 1.7 5.7 1.1 0.5 0.7 0.3 1.3 0.9 0.8 3.3 2.3 5.6 1.1 7.0 0.9 0.7 1.1 2.6 1.8 2.9 1.9 0.7 2.3 2.1 2.1 0.3 2.1 1.4 2.1 7.7 1.8 1.7 0.6 1.2 2.2 1.0 1.8 4.3"/>
<line x1="672.00" y1="2.50" x2="672.00" y2="220.00" stroke="#9a9aa8" stroke-width="1.2" stroke-opacity="0.50" stroke-dasharray="1.8 1.1 0.9 0.7 2.4 2.4 1.8 4.1 1.0 0.5 0.6 9.0 0.8 15.4 1.3 6.1 0.8 7.4 1.1 2.3 1.5 0.7 1.0 7.5 1.1 2.4 2.0 1.4 0.9 1.3 1.3 2.3 1.8 3.1 2.2 0.4 1.8 8.6 1.0 0.3 1.4 0.8 1.4 5.9 0.8 0.8 1.5 1.1 1.0 2.9 0.8 0.5 1.3 3.1 2.3 3.9 0.7 1.4 1.9 4.0 2.2 15.3 2.1 0.7 2.3 3.6 1.0 1.1 2.2 1.3 0.7 1.6 2.3 3.1 1.9 0.6 1.4 2.0 1.0 5.2 1.3 0.8 2.4 3.2 0.9 0.3 1.8 3.5 0.6 3.1 1.9 3.8 1.0 3.4"/>
<line x1="396.10" y1="255.05" x2="396.10" y2="472.30" stroke="#e2d4d4" stroke-width="1.2" stroke-opacity="0.95" stroke-dasharray="8.4 2.0 4.3 2.9 11.5 2.4 10.7 1.0 11.1 0.5 5.0 1.7 11.1 0.3 5.0 0.3 7.0 0.5 4.7 2.5 8.2 4.9 6.6 2.1 3.1 5.1 5.1 1.3 7.6 5.1 7.4 8.2 8.6 0.6 10.5 0.6 12.0 1.2 5.0 5.6 5.9 1.1 6.1 2.0 3.2 1.0"/>
<line x1="396.10" y1="255.05" x2="396.10" y2="472.30" stroke="#d98aa0" stroke-width="1.2" stroke-opacity="0.70" stroke-dasharray="0.9 4.9 0.6 2.7 1.1 1.8 1.6 3.5 0.8 0.9 0.8 8.8 0.9 0.6 1.5 2.5 2.2 0.4 1.0 0.7 1.7 1.8 1.3 6.0 1.8 5.4 2.3 1.0 2.3 1.6 0.7 6.8 0.8 0.2 1.1 1.1 2.3 5.6 1.4 2.2 2.1 4.6 1.8 2.1 0.8 0.9 1.8 2.6 2.0 6.3 2.3 0.8 0.7 6.3 1.6 0.7 1.8 1.0 1.0 1.4 1.5 3.2 0.7 3.8 1.7 1.9 1.8 4.5 0.6 1.9 1.8 3.5 1.8 0.7 2.3 4.3 1.0 1.7 2.3 0.8 1.3 8.9 2.2 0.9 1.9 1.4 1.8 4.1 0.8 0.9 1.0 1.0 0.7 0.6 1.3 1.7 0.7 2.5 2.3 2.5 1.2 3.5 1.4 0.7 1.5 0.2"/>
<line x1="396.10" y1="255.05" x2="396.10" y2="472.30" stroke="#5d9a6a" stroke-width="1.2" stroke-opacity="0.70" stroke-dasharray="1.8 0.7 1.3 9.0 2.0 5.0 1.8 2.9 1.9 9.2 1.0 4.1 1.1 1.0 2.1 2.7 2.1 5.7 1.7 0.8 0.6 2.2 1.9 1.0 0.7 0.2 0.9 3.4 0.6 0.9 1.1 3.5 2.4 0.3 0.8 7.5 2.3 0.6 1.2 2.2 1.2 1.6 1.5 1.0 0.7 0.4 0.9 0.5 1.7 3.4 1.1 4.4 1.9 1.3 1.5 0.8 2.3 2.4 0.7 0.6 1.8 1.5 1.9 0.9 2.0 4.5 0.8 2.6 0.9 3.5 2.0 4.4 1.0 0.5 1.8 2.4 0.8 0.8 1.6 0.5 1.7 0.9 1.1 1.7 1.6 3.6 0.7 3.6 1.0 1.1 1.8 3.3 1.7 6.4 1.0 1.2 1.8 1.0 0.9 0.9 2.0 4.9 1.9 8.7 2.0 1.2 1.2 3.6"/>
<line x1="396.10" y1="255.05" x2="396.10" y2="472.30" stroke="#8a9a8a" stroke-width="1.2" stroke-opacity="0.70" stroke-dasharray="0.7 2.7 0.8 0.3 1.5 0.6 2.3 5.8 1.4 0.8 0.8 2.1 1.5 1.4 1.9 2.2 2.0 0.5 0.7 1.5 1.5 1.0 1.8 0.9 1.2 1.9 1.9 4.1 1.3 1.8 2.3 7.4 1.7 0.5 1.4 2.9 1.1 0.3 2.4 6.6 0.8 1.9 1.7 1.2 0.7 3.9 2.0 1.7 0.8 1.5 0.8 9.0 0.7 1.1 2.0 0.6 0.8 0.4 0.9 2.2 2.1 0.7 0.9 4.1 1.4 1.3 0.8 0.9 2.3 0.5 1.1 3.8 2.2 6.5 1.5 8.6 1.7 1.1 1.4 3.6 1.9 0.6 0.9 8.7 0.8 4.7 1.2 1.0 1.1 1.9 2.4 0.6 2.1 1.2 0.9 3.8 1.2 0.8 1.4 4.8 2.2 2.5 0.6 4.0 1.7 6.3 2.3 1.3"/>
<line x1="396.10" y1="255.05" x2="396.10" y2="472.30" stroke="#d98aa0" stroke-width="1.2" stroke-opacity="0.70" stroke-dasharray="2.1 4.8 1.1 1.4 1.3 1.4 1.3 0.5 1.0 6.6 1.3 2.9 2.2 4.0 1.0 6.9 2.0 12.7 1.9 3.9 2.1 1.0 1.8 1.5 2.1 0.6 1.6 1.3 2.1 1.3 2.1 5.2 2.2 0.6 2.3 3.8 1.8 3.0 0.7 5.6 1.6 1.8 1.2 4.3 2.0 5.6 1.0 1.3 1.0 0.5 1.2 0.3 2.0 0.9 0.7 0.4 1.9 0.8 1.4 1.6 2.0 8.4 1.2 2.9 2.2 1.9 2.2 3.7 1.2 5.7 1.6 0.5 1.7 4.9 1.5 2.0 1.3 5.9 1.8 0.8 1.3 1.4 2.3 3.4 0.8 6.8 0.7 2.6 1.4 3.6 1.4 0.5 1.5 4.8"/>
<line x1="451.28" y1="255.05" x2="451.28" y2="472.30" stroke="#c8c8e0" stroke-width="1.2" stroke-opacity="0.92" stroke-dasharray="10.1 0.9 5.0 2.5 10.2 0.6 10.9 8.3 6.9 1.0 9.4 4.6 4.8 0.8 6.0 2.4 4.7 1.5 7.5 2.0 4.3 5.4 12.0 1.6 10.2 0.5 11.2 1.5 9.8 3.6 6.3 4.5 4.9 0.2 7.5 4.0 11.1 5.4 7.6 4.7 8.0 0.5"/>
<line x1="451.28" y1="255.05" x2="451.28" y2="472.30" stroke="#3c3c8c" stroke-width="1.2" stroke-opacity="0.72" stroke-dasharray="1.7 6.5 1.4 3.7 1.1 1.4 1.4 3.0 1.4 0.6 0.6 1.8 1.9 5.5 1.0 1.3 1.5 0.9 1.7 9.2 1.0 3.6 1.9 5.5 1.9 5.0 1.1 7.2 2.3 0.4 2.3 2.4 0.8 0.5 2.0 4.6 0.9 2.6 1.7 23.4 1.2 5.8 1.0 1.1 0.9 2.2 1.7 1.6 0.9 1.1 0.8 1.0 1.2 2.9 0.9 2.7 1.4 14.1 1.5 11.3 1.4 1.0 1.7 0.8 0.9 0.5 1.9 13.3 1.3 1.9 1.4 1.9 1.8 2.1 0.9 7.9 1.6 0.2 2.1 5.2"/>
<line x1="451.28" y1="255.05" x2="451.28" y2="472.30" stroke="#7a6aa8" stroke-width="1.2" stroke-opacity="0.72" stroke-dasharray="1.2 4.0 2.3 2.2 1.4 1.6 1.6 4.4 1.9 11.7 0.9 2.0 2.1 6.2 1.7 4.5 1.2 11.3 1.6 2.2 0.9 0.7 2.2 6.4 0.6 1.7 1.5 2.8 1.3 8.9 1.2 3.1 2.3 4.1 1.5 1.8 1.3 3.8 2.0 1.4 1.3 2.1 1.3 9.6 1.6 1.4 1.2 6.8 0.9 4.7 0.6 1.0 0.7 6.5 0.9 1.2 0.7 1.4 1.9 5.1 2.2 11.5 1.6 10.0 0.8 10.2 1.4 1.0 1.9 7.7 1.3 0.6 2.2 5.6"/>
<line x1="451.28" y1="255.05" x2="451.28" y2="472.30" stroke="#9a9aa8" stroke-width="1.2" stroke-opacity="0.72" stroke-dasharray="1.7 14.7 0.7 0.4 0.8 0.3 1.9 4.0 0.8 0.9 0.9 3.8 1.8 13.6 1.2 15.1 1.4 2.1 1.1 1.2 2.4 20.5 1.9 0.9 0.9 0.8 1.2 5.3 0.7 3.1 1.8 0.3 1.4 6.2 1.6 2.5 2.2 3.7 1.2 2.1 2.3 7.7 2.2 3.4 0.9 0.9 1.3 4.7 0.6 6.4 2.0 3.0 0.6 6.4 1.3 4.5 1.6 5.2 1.3 12.6 2.3 10.4 1.7 1.7 1.3 1.4 2.2 6.2"/>
<line x1="451.28" y1="255.05" x2="451.28" y2="472.30" stroke="#6a9a9a" stroke-width="1.2" stroke-opacity="0.72" stroke-dasharray="2.0 6.8 2.4 4.7 1.2 5.6 1.1 3.8 0.9 7.7 1.5 1.4 2.3 0.5 2.3 5.6 0.9 5.7 1.6 9.3 1.7 2.3 2.3 0.6 2.0 0.6 1.1 0.7 2.2 2.4 1.9 1.3 1.9 4.2 0.8 2.8 1.9 1.1 1.8 1.5 1.3 9.9 2.3 23.9 1.4 3.5 2.1 5.7 1.4 7.9 1.3 11.7 1.5 0.7 1.9 0.8 1.8 0.4 2.4 3.2 1.9 0.7 1.7 2.0 1.0 6.7 0.7 2.7 0.8 7.5 2.2 0.3 1.4 2.6"/>
<line x1="451.28" y1="255.05" x2="451.28" y2="472.30" stroke="#3c3c8c" stroke-width="1.2" stroke-opacity="0.72" stroke-dasharray="1.9 5.2 1.2 10.6 0.9 0.8 2.1 0.7 0.9 2.9 1.2 0.9 2.3 2.7 2.0 1.3 2.2 1.2 2.2 3.8 2.3 5.9 1.7 3.1 2.1 2.5 0.8 9.6 2.1 4.6 1.9 1.2 1.4 6.9 2.3 10.1 0.9 4.6 1.6 2.2 0.9 0.8 1.4 2.8 1.1 2.0 1.6 5.7 1.7 0.9 2.2 2.0 2.3 15.6 0.9 3.6 2.3 2.1 1.6 1.6 0.7 1.1 0.8 1.5 1.7 3.4 2.3 4.6 1.3 11.7 1.7 3.2 2.2 4.5 1.2 3.8 1.1 13.6"/>
<line x1="506.46" y1="255.05" x2="506.46" y2="472.30" stroke="#d2cce4" stroke-width="1.2" stroke-opacity="0.92" stroke-dasharray="5.2 6.2 3.6 0.2 8.0 0.6 7.6 0.4 10.5 2.0 9.2 4.6 11.9 2.1 9.4 0.2 3.4 1.1 11.7 0.8 8.1 0.2 6.7 4.1 8.3 3.1 3.1 0.6 4.6 3.2 3.9 4.7 5.4 3.7 7.6 0.9 11.7 1.1 9.3 0.3 10.5 6.8 4.0 2.5 5.4 0.5"/>
<line x1="506.46" y1="255.05" x2="506.46" y2="472.30" stroke="#7a6aa8" stroke-width="1.2" stroke-opacity="0.68" stroke-dasharray="1.3 4.0 2.3 18.0 2.4 3.6 1.8 0.8 1.9 3.0 1.2 8.2 1.1 0.7 0.9 0.8 1.7 5.8 0.9 2.6 1.6 3.1 1.3 2.9 0.6 0.4 1.4 1.1 2.0 1.2 2.1 1.2 0.8 2.5 1.3 1.6 2.0 1.1 1.8 6.5 1.4 2.6 2.3 3.4 0.9 0.5 0.7 1.6 0.8 3.8 1.4 1.5 1.5 9.8 1.0 0.8 1.1 1.6 2.2 4.5 1.4 0.8 0.7 0.7 2.1 3.8 0.9 3.6 0.7 2.7 1.2 0.6 1.9 4.6 1.5 0.8 1.8 2.2 1.8 0.5 2.2 0.2 1.0 2.0 1.0 0.5 1.8 17.9 1.2 1.3 1.8 1.1 1.3 4.3 1.4 0.8 0.7 2.9"/>
<line x1="506.46" y1="255.05" x2="506.46" y2="472.30" stroke="#d98aa0" stroke-width="1.2" stroke-opacity="0.68" stroke-dasharray="2.4 9.0 0.8 2.6 1.5 1.0 1.8 2.6 2.1 1.4 2.3 6.1 1.5 0.7 1.5 0.7 1.8 4.4 1.6 13.2 0.7 4.6 2.0 0.6 1.2 0.4 1.6 4.7 1.2 4.3 1.3 4.5 1.1 13.5 1.4 0.2 0.8 4.7 2.2 3.7 0.9 7.4 1.9 0.6 1.3 4.1 0.6 0.4 1.2 7.4 2.4 1.5 2.2 5.6 2.2 3.3 2.3 3.8 2.3 3.1 1.0 2.7 1.5 1.6 1.3 2.7 1.7 1.1 1.1 2.6 1.5 2.1 1.8 0.9 1.6 1.3 2.0 4.4 2.0 2.7 1.0 9.2 1.5 1.8"/>
<line x1="506.46" y1="255.05" x2="506.46" y2="472.30" stroke="#3c3c8c" stroke-width="1.2" stroke-opacity="0.68" stroke-dasharray="1.1 2.0 1.9 6.1 1.5 4.8 1.0 2.3 1.2 1.5 1.2 5.1 1.9 1.0 1.0 5.5 1.8 4.1 1.7 4.3 1.1 0.4 1.2 0.3 2.3 2.8 1.8 12.0 2.0 1.1 1.2 0.6 2.0 4.8 1.5 1.8 1.1 2.5 1.9 8.1 2.1 7.2 1.4 2.1 1.2 12.9 0.9 0.8 1.1 9.1 2.1 1.6 2.1 7.9 1.4 0.9 2.0 1.8 0.8 8.3 1.4 2.0 1.7 1.2 0.6 1.9 1.3 0.2 1.3 5.2 1.2 4.2 1.7 0.9 0.6 4.1 1.7 1.4 1.0 6.9 2.2 1.1 1.7 3.2"/>
<line x1="506.46" y1="255.05" x2="506.46" y2="472.30" stroke="#9a9aa8" stroke-width="1.2" stroke-opacity="0.68" stroke-dasharray="1.2 0.3 1.2 3.8 1.7 2.7 0.8 1.0 1.2 2.1 1.3 8.3 0.8 15.1 1.0 7.0 1.0 3.3 1.3 0.3 2.0 6.0 1.1 5.4 1.5 15.3 0.7 1.9 1.0 3.6 2.0 6.6 1.6 1.9 2.0 0.6 1.1 5.1 1.4 17.5 0.8 2.4 1.0 0.2 0.8 0.5 1.3 2.2 1.5 1.4 1.9 2.7 2.4 0.8 1.5 2.6 1.3 7.1 1.0 7.5 1.2 1.6 1.7 3.1 1.1 0.5 2.3 1.8 0.8 3.9 1.6 1.6 1.2 6.7 1.2 2.1 2.3 1.8 1.3 0.8 1.8 4.0"/>
<line x1="616.82" y1="255.05" x2="616.82" y2="472.30" stroke="#9a9aa8" stroke-width="1.2" stroke-opacity="0.45" stroke-dasharray="1.4 4.8 1.0 14.1 1.4 16.1 1.3 12.0 0.7 2.4 2.3 10.4 1.8 6.3 1.5 2.2 0.9 9.4 1.8 2.9 1.8 1.5 1.7 1.9 1.5 3.5 1.6 1.5 1.5 8.7 0.8 3.5 1.8 7.2 1.7 13.7 1.6 2.4 1.4 16.0 1.6 12.6 1.3 5.5 2.3 15.5 1.8 1.2 1.7 0.5 2.3 32.0"/>
<line x1="616.82" y1="255.05" x2="616.82" y2="472.30" stroke="#7a6aa8" stroke-width="1.2" stroke-opacity="0.45" stroke-dasharray="1.9 3.0 2.1 1.9 2.1 6.7 0.6 19.8 1.4 16.0 1.8 7.0 2.2 2.2 2.2 3.9 0.6 3.8 0.7 0.9 1.7 1.3 0.9 3.3 1.1 22.7 2.2 18.3 2.4 5.4 2.0 3.1 2.3 15.0 1.9 2.5 0.8 23.2 1.6 8.6 2.2 1.6 1.9 5.7 2.0 5.6"/>
<line x1="616.82" y1="255.05" x2="616.82" y2="472.30" stroke="#5d9a6a" stroke-width="1.2" stroke-opacity="0.45" stroke-dasharray="1.0 28.0 1.1 12.3 2.1 2.7 1.9 4.7 1.0 2.4 2.3 4.3 1.5 6.4 0.6 12.6 1.9 18.8 1.2 2.3 1.2 11.9 1.8 4.8 1.5 1.7 2.3 5.9 1.5 13.9 1.0 11.6 1.2 15.1 0.8 3.1 1.7 6.1 1.3 7.9 1.0 5.3 0.6 14.4"/>
<line x1="616.82" y1="255.05" x2="616.82" y2="472.30" stroke="#6a9a9a" stroke-width="1.2" stroke-opacity="0.45" stroke-dasharray="1.1 16.0 1.6 8.4 1.7 1.4 2.0 3.3 2.2 13.9 1.8 15.2 1.4 10.1 2.3 2.1 0.8 4.9 1.5 1.6 1.0 18.1 1.3 1.6 0.9 7.9 0.9 5.9 1.6 5.3 1.5 16.3 0.6 23.8 1.0 0.5 2.0 7.7 1.6 2.4 2.0 3.5 1.9 2.5 1.6 9.5 1.3 6.0"/>
<line x1="672.00" y1="255.05" x2="672.00" y2="472.30" stroke="#e0dcea" stroke-width="1.2" stroke-opacity="0.75" stroke-dasharray="3.6 1.9 9.2 0.5 8.0 2.4 3.9 3.2 10.8 0.3 5.2 0.3 5.3 0.4 7.4 0.7 5.7 1.2 6.3 2.8 9.5 0.4 5.0 0.2 6.0 0.4 9.3 2.7 12.0 0.6 3.3 2.6 6.7 4.7 6.5 0.8 3.7 5.1 7.6 1.2 6.9 2.6 10.5 1.3 4.6 1.1 11.0 1.1 8.9 1.6 7.2 1.6"/>
<line x1="672.00" y1="255.05" x2="672.00" y2="472.30" stroke="#7a6aa8" stroke-width="1.2" stroke-opacity="0.55" stroke-dasharray="1.0 3.7 2.2 0.6 1.3 9.3 2.4 0.3 1.7 4.5 2.1 2.9 0.8 1.7 1.9 5.8 1.0 4.6 1.8 4.8 0.6 2.7 1.2 4.1 1.2 0.8 1.8 1.6 2.0 1.8 1.6 7.3 0.8 5.8 0.7 12.0 0.6 5.7 1.3 1.0 1.3 3.2 1.3 0.8 1.5 1.7 2.3 2.3 1.4 1.3 2.3 1.9 1.8 7.9 1.3 6.2 1.1 0.7 0.7 2.8 2.2 1.2 1.4 6.4 1.1 0.9 1.5 2.6 2.3 10.0 1.0 3.7 1.3 0.3 1.4 10.8 1.1 4.0 1.9 0.5 2.3 0.7 1.1 5.6"/>
<line x1="672.00" y1="255.05" x2="672.00" y2="472.30" stroke="#d98aa0" stroke-width="1.2" stroke-opacity="0.55" stroke-dasharray="0.6 2.2 0.8 2.9 0.6 0.9 1.0 0.6 0.8 1.1 1.5 0.8 2.1 2.5 1.1 1.4 2.1 0.4 1.9 0.6 2.3 2.4 1.7 8.7 0.8 0.5 1.8 4.0 1.9 1.6 1.5 1.1 1.4 1.6 1.7 1.7 1.1 4.6 0.8 7.1 1.5 1.3 0.8 3.2 1.5 5.6 1.3 2.5 2.2 1.6 2.4 9.8 2.4 12.5 1.1 7.4 1.7 1.2 2.4 4.7 2.1 3.7 0.7 8.7 0.9 1.5 1.7 1.1 1.4 5.6 0.8 4.8 0.8 3.0 1.8 5.2 0.7 1.1 2.3 2.3 1.4 2.2 1.9 6.0 1.8 2.4 1.6 3.3 0.9 13.0"/>
<line x1="672.00" y1="255.05" x2="672.00" y2="472.30" stroke="#9a9aa8" stroke-width="1.2" stroke-opacity="0.55" stroke-dasharray="2.3 6.6 2.4 2.9 2.1 1.4 1.9 5.6 2.3 7.9 2.2 1.5 2.0 3.0 1.2 2.2 2.0 8.1 2.1 4.9 0.9 0.9 1.6 1.2 1.2 0.7 0.9 5.6 1.0 8.3 1.2 8.3 1.1 1.5 1.3 0.3 1.4 2.2 0.6 8.7 1.3 0.2 2.3 1.3 1.1 0.3 0.8 5.5 1.6 3.2 1.0 1.6 2.3 2.2 2.4 9.5 0.8 8.3 0.6 5.5 2.1 5.3 1.6 7.4 0.9 3.5 1.1 2.4 0.9 5.5 1.6 6.7 1.7 4.1 2.3 7.4"/>
<line x1="64.80" y1="49.00" x2="340.70" y2="67.00" stroke="#1d4a75" stroke-width="1.7" stroke-linecap="round"/>
<line x1="64.80" y1="55.30" x2="340.70" y2="100.70" stroke="#7890ad" stroke-width="1.7" stroke-linecap="round" stroke-dasharray="6.69 6.69"/>
<line x1="64.80" y1="301.90" x2="340.70" y2="303.90" stroke="#1d4a75" stroke-width="1.7" stroke-linecap="round"/>
<line x1="64.80" y1="430.10" x2="340.70" y2="423.20" stroke="#7890ad" stroke-width="1.7" stroke-linecap="round" stroke-dasharray="6.69 6.69"/>
<line x1="396.10" y1="65.80" x2="672.00" y2="37.80" stroke="#13732a" stroke-width="1.7" stroke-linecap="round" stroke-dasharray="1.67 5.02 6.69 5.02"/>
<line x1="396.10" y1="77.70" x2="672.00" y2="88.60" stroke="#e3c86f" stroke-width="1.7" stroke-linecap="round" stroke-dasharray="6.69 6.69"/>
<line x1="396.10" y1="88.90" x2="672.00" y2="77.40" stroke="#d2627f" stroke-width="1.7" stroke-linecap="round"/>
<line x1="396.10" y1="69.50" x2="672.00" y2="85.90" stroke="#25258f" stroke-width="1.7" stroke-linecap="round" stroke-dasharray="1.67 5.02"/>
<line x1="396.10" y1="353.10" x2="672.00" y2="329.90" stroke="#13732a" stroke-width="1.7" stroke-linecap="round" stroke-dasharray="1.67 5.02 6.69 5.02"/>
<line x1="396.10" y1="403.70" x2="672.00" y2="402.50" stroke="#e3c86f" stroke-width="1.7" stroke-linecap="round" stroke-dasharray="6.69 6.69"/>
<line x1="396.10" y1="381.40" x2="672.00" y2="403.40" stroke="#d2627f" stroke-width="1.7" stroke-linecap="round"/>
<line x1="396.10" y1="395.50" x2="672.00" y2="381.40" stroke="#25258f" stroke-width="1.7" stroke-linecap="round" stroke-dasharray="1.67 5.02"/>
<rect x="53.76" y="1.8" width="297.98" height="218.90" fill="none" stroke="#383838" stroke-width="1.2" stroke-linejoin="round"/>
<rect x="53.76" y="254.35" width="297.98" height="218.65" fill="none" stroke="#383838" stroke-width="1.2" stroke-linejoin="round"/>
<rect x="385.25" y="1.8" width="297.95" height="218.90" fill="none" stroke="#383838" stroke-width="1.2" stroke-linejoin="round"/>
<rect x="385.25" y="254.35" width="297.95" height="218.65" fill="none" stroke="#383838" stroke-width="1.2" stroke-linejoin="round"/>
<line x1="64.80" y1="220.7" x2="64.80" y2="227.50" stroke="#383838" stroke-width="1.2"/>
<text x="64.80" y="245.0" font-size="11" font-weight="bold" text-anchor="middle" fill="#000000">1</text>
<line x1="119.98" y1="220.7" x2="119.98" y2="227.50" stroke="#383838" stroke-width="1.2"/>
<text x="119.98" y="245.0" font-size="11" font-weight="bold" text-anchor="middle" fill="#000000">2</text>
<line x1="175.16" y1="220.7" x2="175.16" y2="227.50" stroke="#383838" stroke-width="1.2"/>
<text x="175.16" y="245.0" font-size="11" font-weight="bold" text-anchor="middle" fill="#000000">3</text>
<line x1="230.34" y1="220.7" x2="230.34" y2="227.50" stroke="#383838" stroke-width="1.2"/>
<text x="230.34" y="245.0" font-size="11" font-weight="bold" text-anchor="middle" fill="#000000">4</text>
<line x1="285.52" y1="220.7" x2="285.52" y2="227.50" stroke="#383838" stroke-width="1.2"/>
<text x="285.52" y="245.0" font-size="11" font-weight="bold" text-anchor="middle" fill="#000000">5</text>
<line x1="340.70" y1="220.7" x2="340.70" y2="227.50" stroke="#383838" stroke-width="1.2"/>
<text x="340.70" y="245.0" font-size="11" font-weight="bold" text-anchor="middle" fill="#000000">6</text>
<line x1="396.10" y1="220.7" x2="396.10" y2="227.50" stroke="#383838" stroke-width="1.2"/>
<text x="396.10" y="245.0" font-size="11" font-weight="bold" text-anchor="middle" fill="#000000">1</text>
<line x1="451.28" y1="220.7" x2="451.28" y2="227.50" stroke="#383838" stroke-width="1.2"/>
<text x="451.28" y="245.0" font-size="11" font-weight="bold" text-anchor="middle" fill="#000000">2</text>
<line x1="506.46" y1="220.7" x2="506.46" y2="227.50" stroke="#383838" stroke-width="1.2"/>
<text x="506.46" y="245.0" font-size="11" font-weight="bold" text-anchor="middle" fill="#000000">3</text>
<line x1="561.64" y1="220.7" x2="561.64" y2="227.50" stroke="#383838" stroke-width="1.2"/>
<text x="561.64" y="245.0" font-size="11" font-weight="bold" text-anchor="middle" fill="#000000">4</text>
<line x1="616.82" y1="220.7" x2="616.82" y2="227.50" stroke="#383838" stroke-width="1.2"/>
<text x="616.82" y="245.0" font-size="11" font-weight="bold" text-anchor="middle" fill="#000000">5</text>
<line x1="672.00" y1="220.7" x2="672.00" y2="227.50" stroke="#383838" stroke-width="1.2"/>
<text x="672.00" y="245.0" font-size="11" font-weight="bold" text-anchor="middle" fill="#000000">6</text>
<line x1="64.80" y1="473.0" x2="64.80" y2="479.80" stroke="#383838" stroke-width="1.2"/>
<text x="64.80" y="497.2" font-size="11" font-weight="bold" text-anchor="middle" fill="#000000">1</text>
<line x1="119.98" y1="473.0" x2="119.98" y2="479.80" stroke="#383838" stroke-width="1.2"/>
<text x="119.98" y="497.2" font-size="11" font-weight="bold" text-anchor="middle" fill="#000000">2</text>
<line x1="175.16" y1="473.0" x2="175.16" y2="479.80" stroke="#383838" stroke-width="1.2"/>
<text x="175.16" y="497.2" font-size="11" font-weight="bold" text-anchor="middle" fill="#000000">3</text>
<line x1="230.34" y1="473.0" x2="230.34" y2="479.80" stroke="#383838" stroke-width="1.2"/>
<text x="230.34" y="497.2" font-size="11" font-weight="bold" text-anchor="middle" fill="#000000">4</text>
<line x1="285.52" y1="473.0" x2="285.52" y2="479.80" stroke="#383838" stroke-width="1.2"/>
<text x="285.52" y="497.2" font-size="11" font-weight="bold" text-anchor="middle" fill="#000000">5</text>
<line x1="340.70" y1="473.0" x2="340.70" y2="479.80" stroke="#383838" stroke-width="1.2"/>
<text x="340.70" y="497.2" font-size="11" font-weight="bold" text-anchor="middle" fill="#000000">6</text>
<line x1="396.10" y1="473.0" x2="396.10" y2="479.80" stroke="#383838" stroke-width="1.2"/>
<text x="396.10" y="497.2" font-size="11" font-weight="bold" text-anchor="middle" fill="#000000">1</text>
<line x1="451.28" y1="473.0" x2="451.28" y2="479.80" stroke="#383838" stroke-width="1.2"/>
<text x="451.28" y="497.2" font-size="11" font-weight="bold" text-anchor="middle" fill="#000000">2</text>
<line x1="506.46" y1="473.0" x2="506.46" y2="479.80" stroke="#383838" stroke-width="1.2"/>
<text x="506.46" y="497.2" font-size="11" font-weight="bold" text-anchor="middle" fill="#000000">3</text>
<line x1="561.64" y1="473.0" x2="561.64" y2="479.80" stroke="#383838" stroke-width="1.2"/>
<text x="561.64" y="497.2" font-size="11" font-weight="bold" text-anchor="middle" fill="#000000">4</text>
<line x1="616.82" y1="473.0" x2="616.82" y2="479.80" stroke="#383838" stroke-width="1.2"/>
<text x="616.82" y="497.2" font-size="11" font-weight="bold" text-anchor="middle" fill="#000000">5</text>
<line x1="672.00" y1="473.0" x2="672.00" y2="479.80" stroke="#383838" stroke-width="1.2"/>
<text x="672.00" y="497.2" font-size="11" font-weight="bold" text-anchor="middle" fill="#000000">6</text>
<line x1="46.96" y1="212.50" x2="53.76" y2="212.50" stroke="#383838" stroke-width="1.2"/>
<text x="40.36" y="216.40" font-size="11" font-weight="bold" text-anchor="end" fill="#000000">12.0</text>
<line x1="46.96" y1="171.95" x2="53.76" y2="171.95" stroke="#383838" stroke-width="1.2"/>
<text x="40.36" y="175.85" font-size="11" font-weight="bold" text-anchor="end" fill="#000000">12.5</text>
<line x1="46.96" y1="131.40" x2="53.76" y2="131.40" stroke="#383838" stroke-width="1.2"/>
<text x="40.36" y="135.30" font-size="11" font-weight="bold" text-anchor="end" fill="#000000">13.0</text>
<line x1="46.96" y1="90.85" x2="53.76" y2="90.85" stroke="#383838" stroke-width="1.2"/>
<text x="40.36" y="94.75" font-size="11" font-weight="bold" text-anchor="end" fill="#000000">13.5</text>
<line x1="46.96" y1="50.30" x2="53.76" y2="50.30" stroke="#383838" stroke-width="1.2"/>
<text x="40.36" y="54.20" font-size="11" font-weight="bold" text-anchor="end" fill="#000000">14.0</text>
<line x1="46.96" y1="9.75" x2="53.76" y2="9.75" stroke="#383838" stroke-width="1.2"/>
<text x="40.36" y="13.65" font-size="11" font-weight="bold" text-anchor="end" fill="#000000">14.5</text>
<line x1="46.96" y1="464.89" x2="53.76" y2="464.89" stroke="#383838" stroke-width="1.2"/>
<text x="40.36" y="468.79" font-size="11" font-weight="bold" text-anchor="end" fill="#000000">20</text>
<line x1="46.96" y1="431.12" x2="53.76" y2="431.12" stroke="#383838" stroke-width="1.2"/>
<text x="40.36" y="435.02" font-size="11" font-weight="bold" text-anchor="end" fill="#000000">25</text>
<line x1="46.96" y1="397.36" x2="53.76" y2="397.36" stroke="#383838" stroke-width="1.2"/>
<text x="40.36" y="401.26" font-size="11" font-weight="bold" text-anchor="end" fill="#000000">30</text>
<line x1="46.96" y1="363.60" x2="53.76" y2="363.60" stroke="#383838" stroke-width="1.2"/>
<text x="40.36" y="367.50" font-size="11" font-weight="bold" text-anchor="end" fill="#000000">35</text>
<line x1="46.96" y1="329.83" x2="53.76" y2="329.83" stroke="#383838" stroke-width="1.2"/>
<text x="40.36" y="333.73" font-size="11" font-weight="bold" text-anchor="end" fill="#000000">40</text>
<line x1="46.96" y1="296.06" x2="53.76" y2="296.06" stroke="#383838" stroke-width="1.2"/>
<text x="40.36" y="299.96" font-size="11" font-weight="bold" text-anchor="end" fill="#000000">45</text>
<line x1="46.96" y1="262.30" x2="53.76" y2="262.30" stroke="#383838" stroke-width="1.2"/>
<text x="40.36" y="266.20" font-size="11" font-weight="bold" text-anchor="end" fill="#000000">50</text>
<line x1="378.45" y1="212.48" x2="385.25" y2="212.48" stroke="#383838" stroke-width="1.2"/>
<text x="371.85" y="216.38" font-size="11" font-weight="bold" text-anchor="end" fill="#000000">9</text>
<line x1="378.45" y1="183.54" x2="385.25" y2="183.54" stroke="#383838" stroke-width="1.2"/>
<text x="371.85" y="187.44" font-size="11" font-weight="bold" text-anchor="end" fill="#000000">10</text>
<line x1="378.45" y1="154.60" x2="385.25" y2="154.60" stroke="#383838" stroke-width="1.2"/>
<text x="371.85" y="158.50" font-size="11" font-weight="bold" text-anchor="end" fill="#000000">11</text>
<line x1="378.45" y1="125.66" x2="385.25" y2="125.66" stroke="#383838" stroke-width="1.2"/>
<text x="371.85" y="129.56" font-size="11" font-weight="bold" text-anchor="end" fill="#000000">12</text>
<line x1="378.45" y1="96.72" x2="385.25" y2="96.72" stroke="#383838" stroke-width="1.2"/>
<text x="371.85" y="100.62" font-size="11" font-weight="bold" text-anchor="end" fill="#000000">13</text>
<line x1="378.45" y1="67.78" x2="385.25" y2="67.78" stroke="#383838" stroke-width="1.2"/>
<text x="371.85" y="71.68" font-size="11" font-weight="bold" text-anchor="end" fill="#000000">14</text>
<line x1="378.45" y1="38.84" x2="385.25" y2="38.84" stroke="#383838" stroke-width="1.2"/>
<text x="371.85" y="42.74" font-size="11" font-weight="bold" text-anchor="end" fill="#000000">15</text>
<line x1="378.45" y1="9.90" x2="385.25" y2="9.90" stroke="#383838" stroke-width="1.2"/>
<text x="371.85" y="13.80" font-size="11" font-weight="bold" text-anchor="end" fill="#000000">16</text>
<line x1="378.45" y1="464.90" x2="385.25" y2="464.90" stroke="#383838" stroke-width="1.2"/>
<text x="371.85" y="468.80" font-size="11" font-weight="bold" text-anchor="end" fill="#000000">20</text>
<line x1="378.45" y1="397.40" x2="385.25" y2="397.40" stroke="#383838" stroke-width="1.2"/>
<text x="371.85" y="401.30" font-size="11" font-weight="bold" text-anchor="end" fill="#000000">25</text>
<line x1="378.45" y1="329.90" x2="385.25" y2="329.90" stroke="#383838" stroke-width="1.2"/>
<text x="371.85" y="333.80" font-size="11" font-weight="bold" text-anchor="end" fill="#000000">30</text>
<line x1="378.45" y1="262.40" x2="385.25" y2="262.40" stroke="#383838" stroke-width="1.2"/>
<text x="371.85" y="266.30" font-size="11" font-weight="bold" text-anchor="end" fill="#000000">35</text>
<text x="68.0" y="19.2" font-size="13.5" fill="#000000">A.</text>
<text x="68.0" y="270.9" font-size="13.5" fill="#000000">B.</text>
<text x="399.4" y="19.2" font-size="13.5" fill="#000000">C.</text>
<text x="399.4" y="270.9" font-size="13.5" fill="#000000">D.</text>
<text transform="translate(12.3,111.3) rotate(-90)" font-size="13.4" font-weight="bold" text-anchor="middle" fill="#000000">Soil Moisture 5cm (%)</text>
<text transform="translate(12.3,363.3) rotate(-90)" font-size="13.5" font-weight="bold" text-anchor="middle" fill="#000000">Soil Moisture 12cm (%)</text>
<text x="203.2" y="514.1" font-size="13.6" font-weight="bold" text-anchor="middle" fill="#000000">Plant Richness (S)</text>
<text x="534.3" y="514.1" font-size="13.6" font-weight="bold" text-anchor="middle" fill="#000000">Plant Richness (S)</text>
<rect x="53.76" y="157.6" width="111.94" height="63.10" fill="#ffffff" fill-opacity="0.93"/>
<rect x="385.25" y="131.6" width="118.15" height="89.10" fill="#ffffff" fill-opacity="0.93"/>
<line x1="63.4" y1="170.4" x2="82.3" y2="170.4" stroke="#1d4a75" stroke-width="1.25" stroke-linecap="round"/>
<line x1="63.4" y1="183.0" x2="82.3" y2="183.0" stroke="#94abc3" stroke-width="1.25" stroke-linecap="round" stroke-dasharray="5.00 5.00"/>
<text x="92.3" y="174.3" font-size="10.5" fill="#2c5279">150% - Precip.</text>
<text x="91.7" y="187.3" font-size="10.5" fill="#a6b9cc">50% - Precip.</text>
<text x="59.1" y="198.9" font-size="10" fill="#000000">F<tspan font-size="7.1" dy="2.9">[1,6190.9]</tspan><tspan dy="-2.9"> = 6.58</tspan></text>
<text x="59.1" y="211.8" font-size="10" fill="#000000">p<tspan font-size="7.1" dy="2.9">S:Rn:depth</tspan><tspan dy="-2.9"> = 0.01*</tspan></text>
<line x1="394.6" y1="144.9" x2="413.5" y2="144.9" stroke="#d2627f" stroke-width="1.25" stroke-linecap="round"/>
<line x1="394.6" y1="157.55" x2="413.5" y2="157.55" stroke="#13732a" stroke-width="1.25" stroke-linecap="round" stroke-dasharray="1.25 3.75 5.00 3.75"/>
<line x1="394.6" y1="170.2" x2="413.5" y2="170.2" stroke="#e3c86f" stroke-width="1.25" stroke-linecap="round" stroke-dasharray="5.00 5.00"/>
<line x1="394.6" y1="182.85" x2="413.5" y2="182.85" stroke="#25258f" stroke-width="1.25" stroke-linecap="round" stroke-dasharray="1.25 3.75"/>
<text x="423.0" y="148.80" font-size="10.5" fill="#d2627f">legumes</text>
<text x="423.0" y="161.60" font-size="10.5" fill="#13732a">grasses</text>
<text x="423.0" y="173.60" font-size="10.5" fill="#e2cf84">asters</text>
<text x="423.0" y="186.20" font-size="10.5" fill="#25258f">multiple-families</text>
<text x="390.3" y="198.9" font-size="10" fill="#000000">F<tspan font-size="7.1" dy="2.9">[3,6190.8]</tspan><tspan dy="-2.9"> = 3.17</tspan></text>
<text x="390.3" y="211.7" font-size="10" fill="#000000">p<tspan font-size="7.1" dy="2.9">S:CC:depth</tspan><tspan dy="-2.9"> = 0.02*</tspan></text>
</g></svg></body></html>
